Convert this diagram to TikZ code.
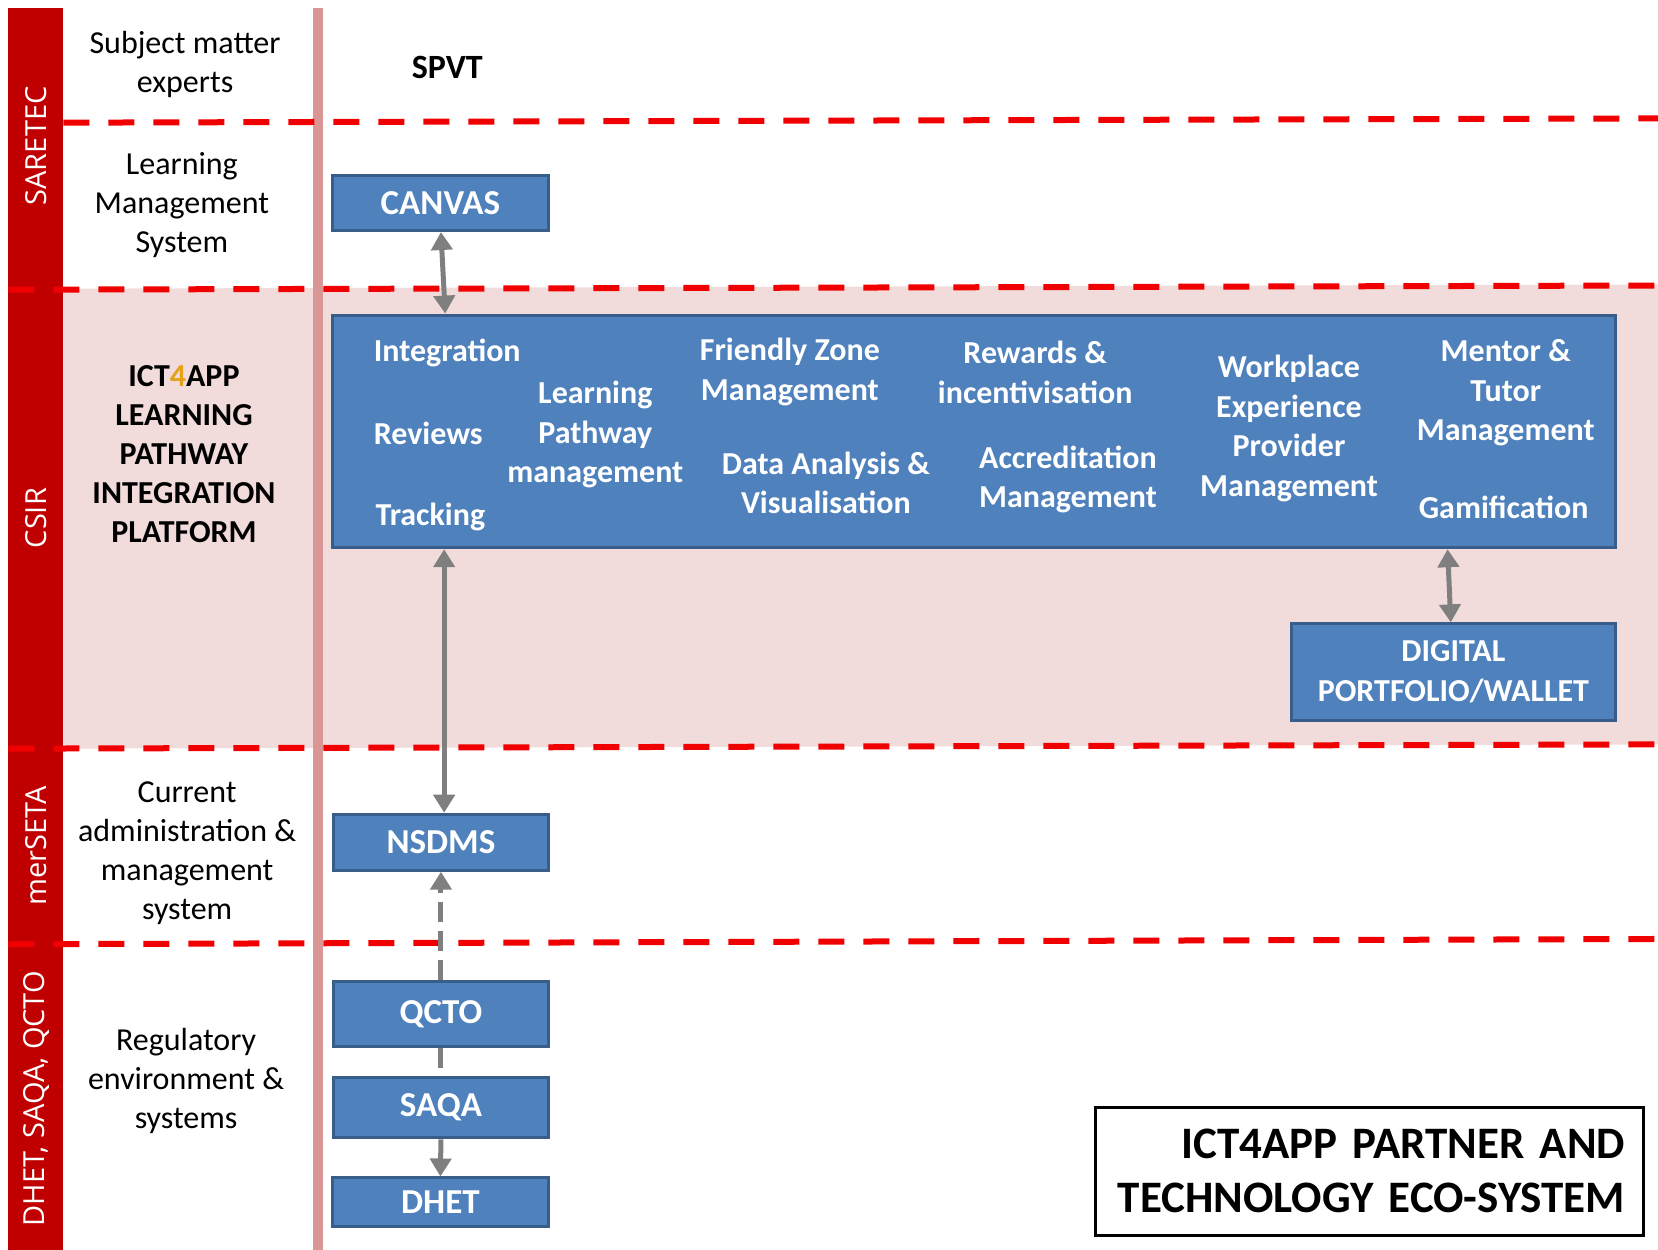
\documentclass[tikz,border=0pt]{standalone}
\usepackage{fontspec}
\setmainfont{Carlito}
\newfontfamily\lblfont{Open Sans}
\usetikzlibrary{arrows.meta,calc}
\definecolor{bandred}{HTML}{C00000}
\definecolor{dashred}{HTML}{F00000}
\definecolor{vline}{HTML}{D99694}
\definecolor{pinkbg}{HTML}{F2DCDB}
\definecolor{boxblue}{HTML}{4F81BD}
\definecolor{boxedge}{HTML}{385D8A}
\definecolor{arrgrey}{HTML}{7F7F7F}
\definecolor{goldfour}{HTML}{E3A21A}
\tikzset{
  box/.style={draw=boxedge, fill=boxblue, line width=3pt, inner sep=0pt, text=white, align=center,
    font=\bfseries\fontsize{35}{42}\selectfont},
  innertxt/.style={text=white, font=\bfseries\fontsize{32}{39.5}\selectfont, align=center, inner sep=0pt},
  lane/.style={font=\fontsize{32}{39}\selectfont, align=center, inner sep=0pt},
  sepline/.style={draw=dashred, line width=6pt, dash pattern=on 26pt off 19pt},
  tipa/.tip={Triangle[width=21pt,length=18pt]},
  arr/.style={draw=arrgrey, line width=5pt, -tipa},
  darr/.style={draw=arrgrey, line width=5pt, tipa-tipa},
  gdash/.style={dash pattern=on 20pt off 9pt},
  vlabel/.style={rotate=90, text=white, font=\lblfont\fontsize{29}{34}\selectfont, inner sep=0pt}
}
\begin{document}
\begin{tikzpicture}[x=1.0574pt,y=-1.0574pt]
\useasboundingbox (0,0) rectangle (1568,1182);
% backgrounds
\fill[pinkbg] (60,273) -- (1568,269) -- (1568,704) -- (60,708) -- cycle;
\fill[bandred] (8,8) rectangle (60,1182);
\draw[vline, line width=9.5pt] (300.5,8) -- (300.5,1182);
% lane separators
\draw[sepline] (60,116) -- (1568,112);
\draw[sepline] (8,274) -- (1568,270);
\draw[sepline] (8,708) -- (1568,704);
\draw[sepline] (8,893) -- (1568,888);
% band labels
\node[vlabel] (saretec) at (34,138) {SARETEC};
\node[vlabel] (csir) at (34,490) {CSIR};
\node[vlabel] (merseta) at (34,800) {merSETA};
\node[vlabel] (dhetlbl) at (34,1039) {DHET, SAQA, QCTO};
% lane texts
\node[lane] (sme) at (175,61) {Subject matter\\experts};
\node[font=\bfseries\fontsize{34}{40}\selectfont, inner sep=0pt] (spvt) at (423,64) {SPVT};
\node[lane] (lms) at (172,193.5) {Learning\\Management\\System};
\node[lane, font=\bfseries\fontsize{32}{38.9}\selectfont] (ict) at (174,429.5)
  {ICT{\color{goldfour}4}APP\\LEARNING\\PATHWAY\\INTEGRATION\\PLATFORM};
\node[lane] (cams) at (177,806.5) {Current\\administration \&\\management\\system};
\node[lane] (reg) at (176,1022) {Regulatory\\environment \&\\systems};
% boxes
\node[box, minimum width=216.8pt, minimum height=55pt] (canvas) at (416.5,192) {CANVAS};
\node[box, minimum width=1283.7pt, minimum height=232.6pt] (platform) at (921,408) {};
\node[box, minimum width=324.6pt, minimum height=96.2pt, font=\bfseries\fontsize{32}{40}\selectfont]
  (portfolio) at (1374.5,635.5) {DIGITAL\\PORTFOLIO/WALLET};
\node[box, minimum width=215.7pt, minimum height=56pt] (nsdms) at (417,796.5) {NSDMS};
\node[box, minimum width=215.7pt, minimum height=65.6pt] (qcto) at (417,959) {QCTO};
\node[box, minimum width=215.7pt, minimum height=60.3pt] (saqa) at (417,1047.5) {SAQA};
\node[box, minimum width=216.8pt, minimum height=48.6pt] (dhet) at (416.5,1137) {DHET};
% platform contents
\node[innertxt] (integ) at (423,334) {Integration};
\node[innertxt] (reviews) at (405,410) {Reviews};
\node[innertxt] (tracking) at (407,489) {Tracking};
\node[innertxt] (lpm) at (563,411) {Learning\\Pathway\\management};
\node[innertxt] (fzm) at (747,352) {Friendly Zone\\Management};
\node[innertxt] (dav) at (781,456.5) {Data Analysis \&\\Visualisation};
\node[innertxt] (rew) at (979,352) {Rewards \&\\incentivisation};
\node[innertxt] (acc) at (1010,453.5) {Accreditation\\Management};
\node[innertxt] (wep) at (1219,405) {Workplace\\Experience\\Provider\\Management};
\node[innertxt] (mtm) at (1424,371.5) {Mentor \&\\Tutor\\Management};
\node[innertxt] (gam) at (1422,480) {Gamification};
% title
\node[draw=black, line width=3pt, fill=white, minimum width=547.7pt, minimum height=128pt,
  text width=511.7pt, inner xsep=18pt, align=right,
  font=\bfseries\fontsize{45}{54}\selectfont] (title) at (1295,1107.5)
  {ICT4APP PARTNER AND\\TECHNOLOGY ECO-SYSTEM};
% connectors
\draw[darr] ([xshift=0.5pt]canvas.south) -- ([xshift=4.8pt]canvas.south |- platform.north);
\draw[darr] ([xshift=3.2pt]nsdms.north |- platform.south) -- ([xshift=3.2pt]nsdms.north);
\draw[darr] ([xshift=-5.8pt]portfolio.north |- platform.south) -- ([xshift=-2.6pt]portfolio.north);
\draw[arr, gdash] (qcto.north) -- (nsdms.south);
\draw[draw=arrgrey, line width=5pt, gdash] (qcto.south) -- (saqa.north);
\draw[arr] (saqa.south) -- (dhet.north);
\end{tikzpicture}
\end{document}
